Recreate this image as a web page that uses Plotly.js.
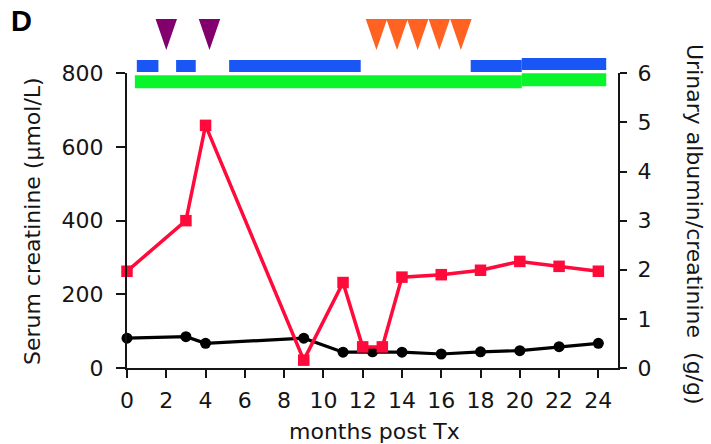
<!DOCTYPE html>
<html><head><meta charset="utf-8">
<script src="https://cdn.plot.ly/plotly-3.0.1.min.js"></script>
<style>html,body{margin:0;padding:0;background:#fff}</style>
</head><body><div id="chart" style="width:711px;height:444px"></div>
<script>
// ---- data ----
const creatMonths = [0, 3, 4, 9, 11, 12.5, 14, 16, 18, 20, 22, 24];
const creatValues = [81, 85, 67, 81, 43, 44, 43, 38, 44, 47, 58, 67];
const uacrMonths = [0, 3, 4, 9, 11, 12, 13, 14, 16, 18, 20, 22, 24];
const uacrValues = [1.97, 3.0, 4.94, 0.16, 1.74, 0.43, 0.43, 1.85, 1.9, 1.99, 2.17, 2.07, 1.97];
const purpleEvents = [2, 4.2];
const orangeEvents = [12.7, 13.75, 14.8, 15.9, 17.0];
const blueStart = [0.5, 2.5, 5.2, 17.5, 20.1];
const blueEnd = [1.6, 3.5, 11.9, 20.1, 24.4];
const greenStart = [0.4, 20.1];
const greenEnd = [20.1, 24.4];
const xTicks = [0, 2, 4, 6, 8, 10, 12, 14, 16, 18, 20, 22, 24];
const leftTicks = [0, 200, 400, 600, 800];
const rightTicks = [0, 1, 2, 3, 4, 5, 6];
const xTitle = 'months post Tx';
const leftTitle = 'Serum creatinine (\u00b5mol/L)';
const rightTitle = 'Urinary albumin/creatinine  (g/g)';
const panelLabel = 'D';

// ---- style / layout constants ----
const W = 711, H = 444, ML = 127, MR = 93, MT = 0, MB = 76;
const plotW = W - ML - MR, plotH = H - MT - MB;
const FONT = 'DejaVu Sans, Arial, sans-serif';
const INK = '#151515';
const RED = '#ff0a3a', BLUE = '#1a56f5', GREEN = '#08f52c', PURPLE = '#82006e', ORANGE = '#ff6221';
const TRI_TOP = 19, TRI_TIP = 50, TRI_HALF = 0.545;
const BLUE_ROW = 66, BLUE_H = 12, GREEN_ROW = 81.7, GREEN_H = 13, LAST_SHIFT = -2;
const mainTop = 73.3; // pixel of 800 tick
const px = p => (p - ML) / plotW;
const py = q => (plotH + MT - q) / plotH;

function triangles(centers) {
  const xs = [], ys = [];
  centers.forEach(c => {
    xs.push(c - TRI_HALF, c + TRI_HALF, c, c - TRI_HALF, null);
    ys.push(TRI_TOP, TRI_TOP, TRI_TIP, TRI_TOP, null);
  });
  return {xs, ys};
}
const pT = triangles(purpleEvents), oT = triangles(orangeEvents);
const rowsWithShift = (n, row) => Array.from({length: n}, (_, i) => i === n - 1 ? row + LAST_SHIFT : row);

const traces = [
  {type: 'bar', orientation: 'h', xaxis: 'x', yaxis: 'y3',
   base: greenStart, x: greenEnd.map((e, i) => e - greenStart[i]),
   y: rowsWithShift(greenStart.length, GREEN_ROW), width: GREEN_H,
   marker: {color: GREEN, line: {width: 0}}, hoverinfo: 'skip', showlegend: false},
  {type: 'bar', orientation: 'h', xaxis: 'x', yaxis: 'y3',
   base: blueStart, x: blueEnd.map((e, i) => e - blueStart[i]),
   y: rowsWithShift(blueStart.length, BLUE_ROW), width: BLUE_H,
   marker: {color: BLUE, line: {width: 0}}, hoverinfo: 'skip', showlegend: false},
  {type: 'scatter', mode: 'lines', xaxis: 'x', yaxis: 'y3', x: pT.xs, y: pT.ys,
   fill: 'toself', fillcolor: PURPLE, line: {width: 0, color: PURPLE}, hoverinfo: 'skip', showlegend: false},
  {type: 'scatter', mode: 'lines', xaxis: 'x', yaxis: 'y3', x: oT.xs, y: oT.ys,
   fill: 'toself', fillcolor: ORANGE, line: {width: 0, color: ORANGE}, hoverinfo: 'skip', showlegend: false},
  {type: 'scatter', mode: 'lines+markers', xaxis: 'x', yaxis: 'y', x: creatMonths, y: creatValues,
   line: {color: '#000', width: 3.2}, marker: {symbol: 'circle', size: 11, color: '#000'},
   cliponaxis: false, showlegend: false},
  {type: 'scatter', mode: 'lines+markers', xaxis: 'x', yaxis: 'y2', x: uacrMonths, y: uacrValues,
   line: {color: RED, width: 3.5}, marker: {symbol: 'square', size: 11.5, color: RED},
   cliponaxis: false, showlegend: false}
];

const axisCommon = {showline: true, linecolor: INK, linewidth: 2, ticks: 'outside', tickcolor: INK,
  tickwidth: 2, showgrid: false, zeroline: false, tickfont: {family: FONT, size: 22, color: INK}, fixedrange: true};

const layout = {
  width: W, height: H, margin: {l: ML, r: MR, t: MT, b: MB, pad: 0},
  paper_bgcolor: '#fff', plot_bgcolor: 'rgba(0,0,0,0)', barmode: 'overlay', showlegend: false,
  xaxis: Object.assign({}, axisCommon, {range: [0, 25], tickvals: xTicks, ticktext: xTicks.map(String),
    ticklen: 8, anchor: 'y', ticklabelstandoff: 4}),
  yaxis: Object.assign({}, axisCommon, {range: [0, 800], domain: [0, py(mainTop)], tickvals: leftTicks,
    ticktext: leftTicks.map(String), ticklen: 9, anchor: 'x', side: 'left', ticklabelstandoff: 8}),
  yaxis2: Object.assign({}, axisCommon, {range: [0, 6], tickvals: rightTicks, ticktext: rightTicks.map(String),
    ticklen: 7, overlaying: 'y', side: 'right', anchor: 'x', ticklabelstandoff: 6}),
  yaxis3: {domain: [0, 1], range: [plotH, 0], visible: false, showgrid: false, zeroline: false, anchor: 'x', fixedrange: true},
  annotations: [
    {text: panelLabel, xref: 'paper', yref: 'paper', x: px(9), y: py(21), xanchor: 'left', yanchor: 'middle',
     showarrow: false, font: {family: 'Liberation Sans, Arial, sans-serif', size: 29, color: '#000', weight: 'bold'}},
    {text: leftTitle, xref: 'paper', yref: 'paper', x: px(32), y: py(221), xanchor: 'center', yanchor: 'middle',
     textangle: -90, showarrow: false, font: {family: FONT, size: 22, color: INK}},
    {text: rightTitle, xref: 'paper', yref: 'paper', x: px(695), y: py(224), xanchor: 'center', yanchor: 'middle',
     textangle: 90, showarrow: false, font: {family: FONT, size: 22, color: INK}},
    {text: xTitle, xref: 'paper', yref: 'paper', x: px(374), y: py(431), xanchor: 'center', yanchor: 'middle',
     showarrow: false, font: {family: FONT, size: 22, color: INK}}
  ]
};

Plotly.newPlot('chart', traces, layout, {displayModeBar: false, staticPlot: true});
</script>
</body></html>
